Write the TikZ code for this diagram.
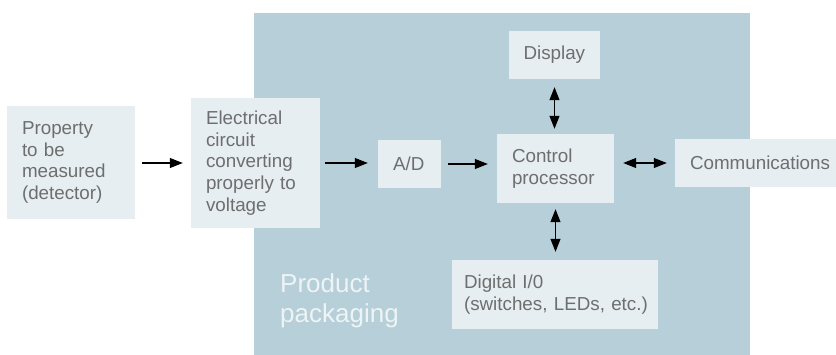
\documentclass[tikz,border=0pt]{standalone}
\usepackage{fontspec}
\setmainfont{Liberation Sans}
\usetikzlibrary{arrows.meta}
\definecolor{pack}{HTML}{B6CFD8}
\definecolor{boxfill}{HTML}{E6EEF1}
\definecolor{txt}{HTML}{6E6E6E}
\definecolor{packtxt}{HTML}{EEF4F6}

\begin{document}
\begin{tikzpicture}[x=1pt,y=-1pt,
  block/.style={fill=boxfill, draw=none, inner xsep=15pt, inner ysep=0pt,
    align=left, text=txt, font=\fontsize{18.8}{21.7}\selectfont},
  link/.style={line width=1.1pt, -{Triangle[length=13pt,width=10pt]}},
  duplex/.style={line width=1.1pt,
    {Triangle[length=13pt,width=10pt]}-{Triangle[length=13pt,width=10pt]}}]
  \useasboundingbox (0,0) rectangle (836,355);

  % product packaging area
  \fill[pack] (254,13) rectangle (750,360);
  \node[anchor=north west, inner sep=0pt, align=left, text=packtxt,
        font=\fontsize{26}{30}\selectfont] (packlabel) at (280,273)
        {Product\\packaging};

  % blocks
  \node[block, text width=98pt, minimum height=113pt] (prop) at (71,162.5)
    {Property\\to be\\measured\\(detector)};
  \node[block, text width=99pt, minimum height=130pt] (elec) at (255.5,163)
    {Electrical\\circuit\\converting\\properly to\\voltage};
  \node[block, text width=33pt, minimum height=48pt] (ad) at (409.5,164) {A/D};
  \node[block, text width=87pt, minimum height=69pt] (ctrl) at (555.5,168.5)
    {Control\\processor};
  \node[block, inner xsep=14.5pt, text width=62pt, minimum height=48pt] (disp)
    at (554.5,55) {Display};
  \node[block, text width=146pt, minimum height=48pt] (comm) at (763,163)
    {Communications};
  \node[block, inner xsep=12pt, text width=182pt, minimum height=69pt] (dig)
    at (555,294.5) {Digital I/0\\\mbox{(switches, LEDs, etc.)}};

  % signal flow
  \draw[link, shorten <=7pt, shorten >=8pt] (prop.east |- elec.west) -- (elec.west);
  \draw[link, shorten <=5pt, shorten >=10pt] (elec.east) -- (elec.east -| ad.west);
  \draw[link, shorten <=7pt, shorten >=9pt] (ad.east) -- (ad.east -| ctrl.west);
  \draw[duplex, shorten <=9pt, shorten >=8pt] (comm.west -| ctrl.east) -- (comm.west);
  \draw[duplex, shorten <=8pt, shorten >=5pt] (disp.south) -- (disp.south |- ctrl.north);
  \draw[duplex, shorten <=6pt, shorten >=8pt] (ctrl.south) -- (ctrl.south |- dig.north);
\end{tikzpicture}
\end{document}
